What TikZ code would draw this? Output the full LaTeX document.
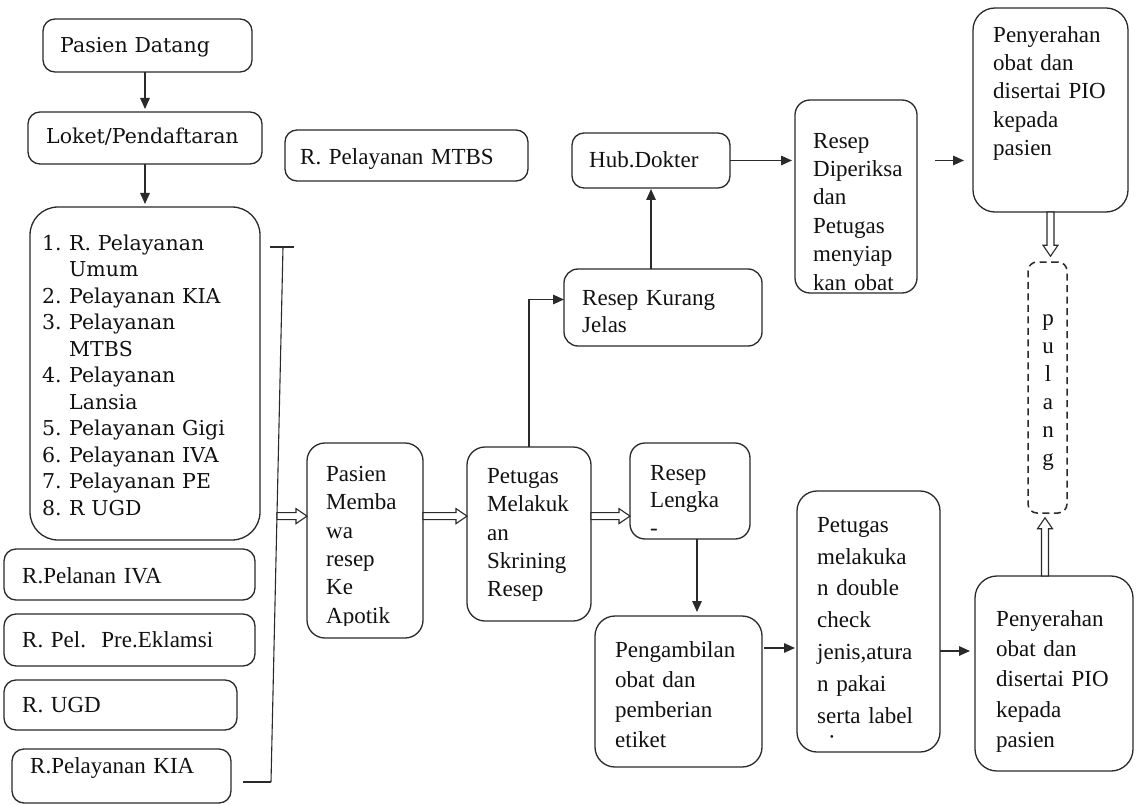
\documentclass[tikz,border=0pt]{standalone}
\usepackage{fontspec}
\setmainfont{Liberation Serif}
\newfontfamily\bkf{DejaVu Serif}
\usetikzlibrary{arrows.meta,calc}
\frenchspacing
\definecolor{ln}{HTML}{2A2A2A}
\definecolor{tx}{HTML}{111111}
\newcommand\tms[1]{\fontsize{23}{#1}\selectfont}
\newcommand\bks[1]{\bkf\fontsize{20.5}{#1}\selectfont}
\newcommand\hollowarrow[2]{%
  \path[draw=ln, fill=white, line width=1.1pt, line join=miter]
    let \p1=(#1), \p2=(#2),
        \n1={atan2(\y2-\y1,\x2-\x1)},
        \n2={veclen(\x2-\x1,\y2-\y1)} in
    [shift={(\p1)}, rotate=\n1]
    (0pt,-3.5pt) -- ({\n2-11pt},-3.5pt) -- ({\n2-11pt},-7.5pt) -- (\n2,0pt)
    -- ({\n2-11pt},7.5pt) -- ({\n2-11pt},3.5pt) -- (0pt,3.5pt) -- cycle;}
\begin{document}
\begin{tikzpicture}[x=1pt,y=-1pt,
  box/.style={draw=ln, line width=1.3pt, rounded corners=#1, inner sep=0pt, outer sep=0pt},
  box/.default=12pt,
  txt/.style={anchor=north west, inner sep=0pt, align=left, text=tx,
    execute at begin node={\noindent\strut}},
  arr/.style={draw=ln, line width=1.5pt, -{Triangle[length=11pt,width=9.5pt]}},
  brk/.style={draw=ln, line width=1.1pt}
]
\useasboundingbox[fill=white] (0,0) rectangle (1137,805);

% left column
\node[box, minimum width=209pt, minimum height=53pt] (pd) at (147.5,45.5) {};
\node[txt, text width=190pt, font={\bks{26.5}}] (pdt) at (60,33.45) {Pasien Datang};
\node[box, minimum width=234pt, minimum height=52pt] (lk) at (145,138) {};
\node[txt, text width=215pt, font={\bks{26.5}}] (lkt) at (46,124.45) {Loket/Pendaftaran};
\node[box, minimum width=243pt, minimum height=51pt] (mtbs) at (406.5,155.5) {};
\node[txt, text width=230pt, font={\tms{28.4}}] (mtbst) at (300,144.12) {R. Pelayanan MTBS};

\node[box=28pt, minimum width=230pt, minimum height=333pt] (lst) at (145,373.5) {};
\node[txt, text width=215pt, font={\bks{26.5}}] (lstt) at (42,231.45) {%
\makebox[27pt][l]{1.}R. Pelayanan\\
\hspace*{27pt}Umum\\
\makebox[27pt][l]{2.}Pelayanan KIA\\
\makebox[27pt][l]{3.}Pelayanan\\
\hspace*{27pt}MTBS\\
\makebox[27pt][l]{4.}Pelayanan\\
\hspace*{27pt}Lansia\\
\makebox[27pt][l]{5.}Pelayanan Gigi\\
\makebox[27pt][l]{6.}Pelayanan IVA\\
\makebox[27pt][l]{7.}Pelayanan PE\\
\makebox[27pt][l]{8.}R UGD};

\node[box, minimum width=251pt, minimum height=51pt] (iva) at (129.5,574.5) {};
\node[txt, text width=230pt, font={\tms{28.4}}] (ivat) at (22,563.12) {R.Pelanan IVA};
\node[box, minimum width=251pt, minimum height=52pt] (pre) at (129.5,640) {};
\node[txt, text width=230pt, font={\tms{28.4}}] (pret) at (22,627.12) {R. Pel.\ \ Pre.Eklamsi};
\node[box, minimum width=233pt, minimum height=50pt] (ugd) at (120.5,705) {};
\node[txt, text width=210pt, font={\tms{28.4}}] (ugdt) at (22,692.12) {R. UGD};
\node[box, minimum width=219pt, minimum height=54pt] (kia) at (121.5,776) {};
\node[txt, text width=200pt, font={\tms{28.4}}] (kiat) at (30,753.12) {R.Pelayanan KIA};

% bracket
\coordinate (btl) at (270,247);
\coordinate (btr) at (294,247);
\coordinate (bt) at (283,247);
\coordinate (bb) at (271,782);
\coordinate (bbl) at (243,782);
\draw[brk] (btl) -- (btr);
\draw[brk] (bt) -- (bb);
\draw[brk] (bbl) -- (bb);
\coordinate (bm) at ($(bt)!0.503!(bb)$);

% middle
\node[box=18pt, minimum width=116pt, minimum height=195pt] (pm) at (365,540.5) {};
\begin{scope}
\clip (307,443) rectangle (423,625.5);
\node[txt, text width=95pt, font={\tms{28.4}}] (pmt) at (326,461.12) {Pasien\\Memba\\wa\\resep\\Ke\\Apotik};
\end{scope}
\node[box=18pt, minimum width=124pt, minimum height=174pt] (pe) at (529,534) {};
\node[txt, text width=100pt, font={\tms{28.4}}] (pet) at (487,463.12) {Petugas\\Melakuk\\an\\Skrining\\Resep};
\node[box=15pt, minimum width=120pt, minimum height=96pt] (rl) at (690,491) {};
\node[txt, text width=95pt, font={\tms{27.5}}] (rlt) at (650,460.75) {Resep\\Lengka\\-};
\node[box=14pt, minimum width=198pt, minimum height=77pt] (rkj) at (663,307.5) {};
\node[txt, text width=175pt, font={\tms{27}}] (rkjt) at (582,286.1) {Resep Kurang\\Jelas};
\node[box, minimum width=158pt, minimum height=55pt] (hub) at (651,160.5) {};
\node[txt, text width=140pt, font={\tms{28.4}}] (hubt) at (589,147.12) {Hub.Dokter};
\node[box=15pt, minimum width=122pt, minimum height=193pt] (rd) at (856,196.5) {};
\begin{scope}
\clip (795,100) rectangle (917,291.5);
\node[txt, text width=100pt, font={\tms{28.4}}] (rdt) at (813,128.12) {Resep\\Diperiksa\\dan\\Petugas\\menyiap\\kan obat};
\end{scope}
\node[box=22pt, minimum width=155pt, minimum height=204pt] (pt) at (1050.5,110) {};
\node[txt, text width=130pt, font={\tms{28.3}}] (ptt) at (993,22.19) {Penyerahan\\obat dan\\disertai PIO\\kepada\\pasien};

\node[draw=ln, dash pattern=on 7pt off 4.5pt, line width=1.5pt, rounded corners=9pt,
  minimum width=39pt, minimum height=251pt, inner sep=0pt] (pl) at (1047.5,387.5) {};
\node[anchor=north, inner sep=0pt, align=center, text width=20pt, text=tx, font={\tms{28}},
  execute at begin node={\strut}] (plt) at (1048,305.4) {p\\u\\l\\a\\n\\g};

% bottom row
\node[box=20pt, minimum width=167pt, minimum height=151pt] (pg) at (678.5,691.5) {};
\node[txt, text width=145pt, font={\tms{30}}] (pgt) at (615,636) {Pengambilan\\obat dan\\pemberian\\etiket};
\node[box=20pt, minimum width=143pt, minimum height=261pt] (pdc) at (868.5,621.5) {};
\node[txt, text width=120pt, font={\tms{31.8}}] (pdct) at (817,509.74) {Petugas\\melakuka\\n double\\check\\jenis,atura\\n pakai\\serta label};
\node[inner sep=0pt, text=tx, font={\tms{28}}] (dot) at (832,740) {·};
\node[box=22pt, minimum width=158pt, minimum height=195pt] (pb) at (1054,673.5) {};
\node[txt, text width=130pt, font={\tms{30.3}}] (pbt) at (996,604.79) {Penyerahan\\obat dan\\disertai PIO\\kepada\\pasien};

% plain arrows
\draw[arr, shorten >=3pt] (lk.north |- pd.south) -- (lk.north);
\draw[arr, shorten >=3pt] (lk.south) -- (lst.north);
\draw[arr] (pe.north) |- ([yshift=8pt]rkj.west);
\draw[arr, shorten >=1pt] (hub.south |- rkj.north) -- (hub.south);
\draw[arr, shorten >=3pt] (hub.east) -- (hub.east -| rd.west);
\draw[arr, shorten <=18pt, shorten >=9pt] (rd.east |- hub.east) -- (hub.east -| pt.west);
\coordinate (rls) at ([xshift=7pt]rl.south);
\draw[arr, shorten >=4pt] (rls) -- (rls |- pg.north);
\coordinate (ya) at (0,648);
\coordinate (yb) at (0,651);
\draw[arr, shorten <=2pt, shorten >=2pt] (pg.east |- ya) -- (pdc.west |- ya);
\draw[arr, shorten >=5pt] (pdc.east |- yb) -- (pb.west |- yb);

% hollow arrows
\hollowarrow{bm}{bm -| pm.west}
\hollowarrow{bm -| pm.east}{bm -| pe.west}
\hollowarrow{bm -| pe.east}{bm -| rl.west}
\coordinate (plnt) at ([yshift=5pt]pl.north);
\hollowarrow{pt.south}{pt.south |- plnt}
\coordinate (plbt) at ([yshift=-4pt]pl.south);
\coordinate (pbtop) at ([xshift=-9pt]pb.north);
\hollowarrow{pbtop}{pbtop |- plbt}
\end{tikzpicture}
\end{document}
